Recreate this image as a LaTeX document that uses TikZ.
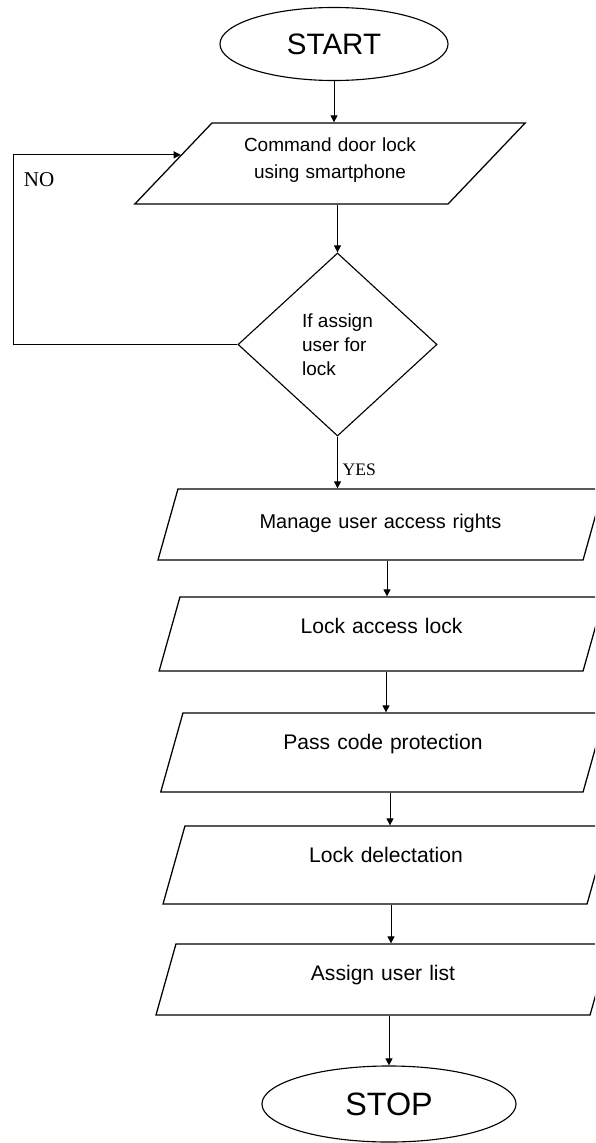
\documentclass[tikz,border=0pt]{standalone}
\usepackage{fontspec}
\setmainfont{Liberation Sans}
\newfontfamily\notefont{Liberation Serif}
\usetikzlibrary{shapes.geometric,arrows.meta,calc}

\begin{document}
\begin{tikzpicture}[x=0.025cm,y=-0.025cm,
    terminal/.style={draw,ellipse,line width=0.8pt,inner sep=0pt},
    iobox/.style={draw,trapezium,trapezium left angle=74.3,trapezium right angle=105.7,
        line width=0.9pt,inner sep=0pt,align=center},
    decision/.style={draw,diamond,line width=0.8pt,inner sep=0pt,align=left,font=\fontsize{13.5}{17}\selectfont},
    arr/.style={line width=0.7pt,-{Triangle[length=5pt,width=5pt]}},
    note/.style={font=\notefont\fontsize{12.5}{15}\selectfont}]
\useasboundingbox (0,0) rectangle (595,1143);
\clip (0,0) rectangle (595,1143);
\fill[white] (0,0) rectangle (595,1143);

%% terminals and decision
\node[terminal,minimum width=5.7cm,minimum height=1.825cm,font=\fontsize{21}{24}\selectfont] (start) at (334,44) {START};
\node[iobox,trapezium left angle=46.4,trapezium right angle=133.6,font=\fontsize{13.5}{18.5}\selectfont,
      text width=5.9cm,text height=0.725cm,text depth=1.3cm] (cmd) at (330,163.5) {Command door lock\\using smartphone};
\node[decision,minimum width=4.975cm,minimum height=4.575cm] (assign) at (337.5,344.5) {If assign\\user for\\lock};

%% input / output boxes
\foreach \nm/\cx/\cy/\tw/\th/\td/\fs/\txt in {
    rights/380.5/524.5/10.125/0.975/0.8/14.2/Manage user access rights,
    access/381.5/634/10.075/0.9/0.95/15/Lock access lock,
    pass/383/752.5/10/0.9/1.075/15/Pass code protection,
    detect/386/865/10.05/0.9/1.05/15/Lock delectation,
    list/383/979.5/10.35/0.9/0.875/15/Assign user list}{
    \node[iobox,text width=\tw cm,text height=\th cm,text depth=\td cm,font=\fontsize{\fs}{18}\selectfont] (\nm) at (\cx,\cy) {\txt};
}
\node[terminal,minimum width=6.35cm,minimum height=1.9cm,font=\fontsize{23}{26}\selectfont] (stop) at (389,1104) {STOP};

%% connectors
\draw[arr] (start) -- (start |- cmd.north);
\draw[arr] (assign |- cmd.south) -- (assign);
\draw[arr] (assign) -- (assign |- rights.north) node[note,right,pos=0.64]{YES};
\foreach \a/\b/\ax in {rights/access/387,access/pass/386,pass/detect/390,detect/list/391}{
    \draw[arr] (\a.south -| \ax,0) -- (\b.north -| \ax,0);
}
\draw[arr] (stop |- list.south) -- (stop);

%% NO loop back
\coordinate (noend) at ($(cmd.left side)!0.21!(cmd.top left corner)$);
\draw[arr] (assign.west) -| (13,0 |- noend) -- (noend);
\node[note,anchor=west,font=\notefont\fontsize{15}{17}\selectfont] (no) at (19,180) {NO};
\end{tikzpicture}
\end{document}
